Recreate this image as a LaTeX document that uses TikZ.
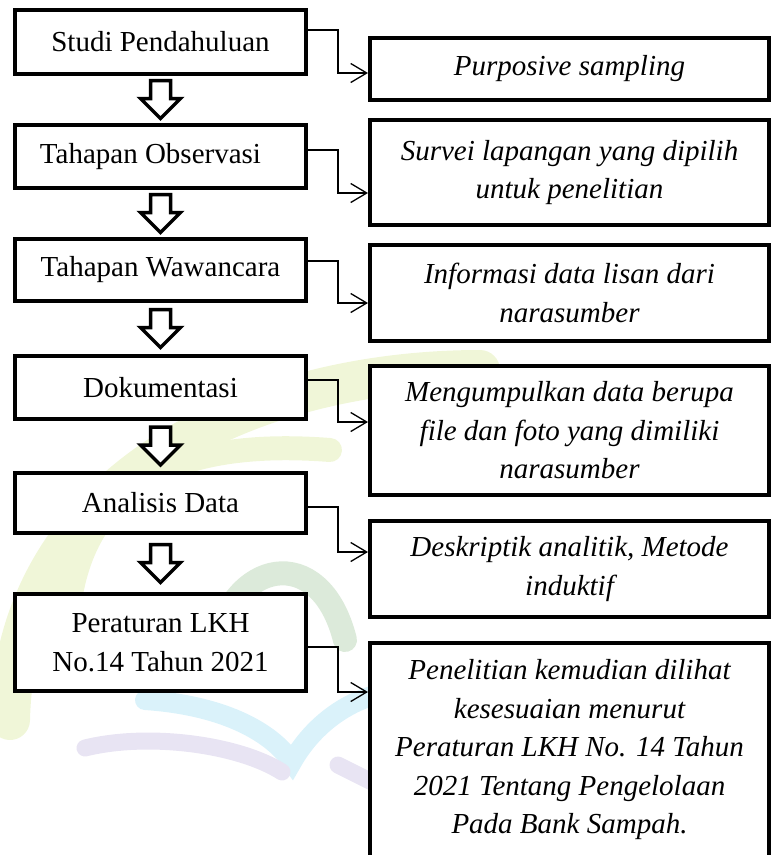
\documentclass[tikz,border=0pt]{standalone}
\usepackage{fontspec}
\setmainfont{Liberation Serif}
\usetikzlibrary{calc}
\usetikzlibrary{arrows.meta}
\definecolor{wmgreen}{RGB}{240,246,216}
\definecolor{wmdkgreen}{RGB}{220,234,218}
\definecolor{wmcyan}{RGB}{218,242,250}
\definecolor{wmpurple}{RGB}{232,228,243}
\tikzset{leftbox/.style={rectangle,draw,fill=white,line width=4pt,minimum width=291pt,inner sep=2pt,
align=center,font=\fontsize{29}{38.5}\selectfont},
rightbox/.style={leftbox,minimum width=399pt,font=\fontsize{29}{38.5}\selectfont\itshape},
link/.style={line width=1.3pt,-{Straight Barb[length=16pt,width=19pt]}},
bigarrow/.style={line width=3.5pt,line join=miter,fill=white},
mark line/.style={line cap=round}}
\begin{document}
\begin{tikzpicture}[x=1pt,y=-1pt]
  \useasboundingbox (0,0) rectangle (775,855);
  \draw [mark line,wmgreen,line width=40pt] (10,720) .. controls (15,480) and (250,370) .. (480,370);
  \draw [mark line,wmgreen,line width=24pt] (70,600) .. controls (90,470) and (200,440) .. (330,450);
  \draw [mark line,wmdkgreen,line width=24pt] (215,650) .. controls (230,560) and (320,540) .. (345,640);
  \draw [mark line,wmcyan,line width=20pt] (145,700) .. controls (220,705) and (270,730) .. (292,762)
    .. controls (310,730) and (340,705) .. (375,695);
  \draw [mark line,wmpurple,line width=17pt] (85,748) .. controls (150,732) and (240,745) .. (282,772);
  \draw [mark line,wmpurple,line width=17pt] (338,765) -- (372,782);

  \node (studi) [leftbox,minimum height=64pt] at (160.5,42) {Studi Pendahuluan};
  \node (obs) [leftbox,minimum height=63pt] at (160.5,156.5) {Tahapan Observasi\hspace*{20pt}};
  \node (wawan) [leftbox,minimum height=62pt] at (160.5,270) {Tahapan Wawancara};
  \node (doku) [leftbox,minimum height=63pt] at (160.5,387.5) {Dokumentasi};
  \node (analisis) [leftbox,minimum height=60pt] at (160.5,503) {Analisis Data};
  \node (aturan) [leftbox,minimum height=97pt] at (160.5,642.5) {Peraturan LKH\\No.14 Tahun 2021};

  \node (purpose) [rightbox,minimum height=62pt] at (569.5,69) {Purposive sampling};
  \node (survei) [rightbox,minimum height=105pt] at (569.5,172.5) {Survei lapangan yang dipilih\\untuk penelitian};
  \node (lisan) [rightbox,minimum height=96pt] at (569.5,293) {Informasi data lisan dari\\narasumber};
  \node (kumpul) [rightbox,minimum height=129pt] at (569.5,430.5) {Mengumpulkan data berupa\\file dan foto yang dimiliki\\narasumber};
  \node (deskrip) [rightbox,minimum height=96pt] at (569.5,569) {Deskriptik analitik, Metode\\induktif};
  \node (hasil) [rightbox,minimum height=214pt] at (569.5,750) {Penelitian kemudian dilihat\\kesesuaian menurut\\Peraturan LKH No. 14 Tahun\\2021 Tentang Pengelolaan\\Pada Bank Sampah.};

  \foreach \a/\b in {studi/obs,obs/wawan,wawan/doku,doku/analisis,analisis/aturan}
    \draw [bigarrow] ($(\a.south)!0.5!(\b.north)+(-10,-19)$) -- ++(20,0) -- ++(0,18) -- ++(10,0)
      -- ++(-20,20) -- ++(-20,-20) -- ++(10,0) -- cycle;

  \foreach \l/\r/\ya/\yb in {studi/purpose/30/73,obs/survei/150/193,wawan/lisan/261/303,
    doku/kumpul/380/422,analisis/deskrip/507/552,aturan/hasil/647/692}
    \draw [link] (\l.east |- 0,\ya) -- (338,\ya) -- (338,\yb) -- (\r.west |- 0,\yb);
\end{tikzpicture}
\end{document}
